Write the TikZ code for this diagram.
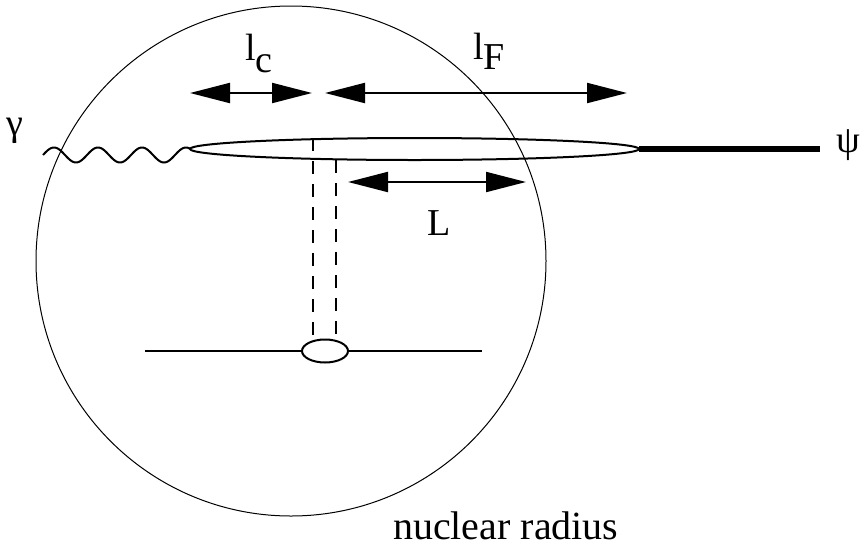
\documentclass[tikz,border=0pt]{standalone}
\usepackage{fontspec}
\setmainfont{Liberation Serif}
\usepackage{tikz}
\usetikzlibrary{arrows.meta, positioning, shapes.geometric}
\tikzset{
  darrow/.style={{Triangle[length=40pt,width=20pt]}-{Triangle[length=40pt,width=20pt]},
                 line width=2pt},
  lbl/.style={font=\fontsize{38}{44}\selectfont, inner sep=0pt, outer sep=0pt},
  dipole/.style={draw, ellipse, line width=2pt, minimum width=449pt,
                 minimum height=22pt, inner sep=0pt, outer sep=0pt},
  target/.style={draw, ellipse, line width=2pt, minimum width=46pt,
                 minimum height=23pt, inner sep=0pt, outer sep=0pt},
  exchange/.style={line width=2pt, dash pattern=on 13pt off 10pt},
  quark/.style={line width=2pt},
}

\begin{document}
\begin{tikzpicture}[x=1pt, y=-1pt]
  \useasboundingbox (0,0) rectangle (868,547);

  % --- Nucleus ---
  \node[draw, circle, line width=1pt, minimum size=510pt, inner sep=0pt,
        outer sep=0pt] (nucleus) at (291,261) {};
  \node[lbl, font=\fontsize{40}{46}\selectfont, anchor=base west]
    (radius) at (393,539) {nuclear radius};

  % --- Dipole and target ---
  \node[dipole] (dipole) at (414.5,149) {};
  \node[target] (target) at (325,351) {};
  \coordinate (psiend) at (820,149);
  \coordinate (tleft) at (145,351);
  \coordinate (tright) at (482,351);

  \draw[quark] plot[domain=43:190, samples=120]
    (\x, {155-7.5*sin(8.1818*(\x-43))}) -- (dipole.west);
  \draw[line width=6.5pt] (dipole.east) -- (psiend);
  \draw[quark] (tleft) -- (target.west);
  \draw[quark] (target.east) -- (tright);
  \draw[exchange] (313,0 |- dipole.north) -- (313,0 |- target.north);
  \draw[exchange] (336,0 |- dipole.south) -- (336,0 |- target.north);

  \node[lbl, anchor=base] (gamma) at (15,135) {γ};
  \node[lbl, anchor=base west] (psi) at (836,152) {ψ};

  % --- Lengths ---
  \coordinate (lc-a) at (190,93);
  \coordinate (lc-b) at (312,93);
  \coordinate (lf-a) at (325,93);
  \coordinate (lf-b) at (627,93);
  \coordinate (L-a) at (348,182);
  \coordinate (L-b) at (526,182);
  \draw[darrow] (lc-a) -- (lc-b);
  \draw[darrow] (lf-a) -- (lf-b);
  \draw[darrow] (L-a) -- (L-b);

  \node[lbl, anchor=base west] (lc) at (245,60) {l\raisebox{-12pt}{c}};
  \node[lbl, anchor=base west] (lF) at (473,59) {l\raisebox{-10pt}{F}};
  \node[lbl, anchor=base west] (L) at (427,235) {L};

\end{tikzpicture}
\end{document}
